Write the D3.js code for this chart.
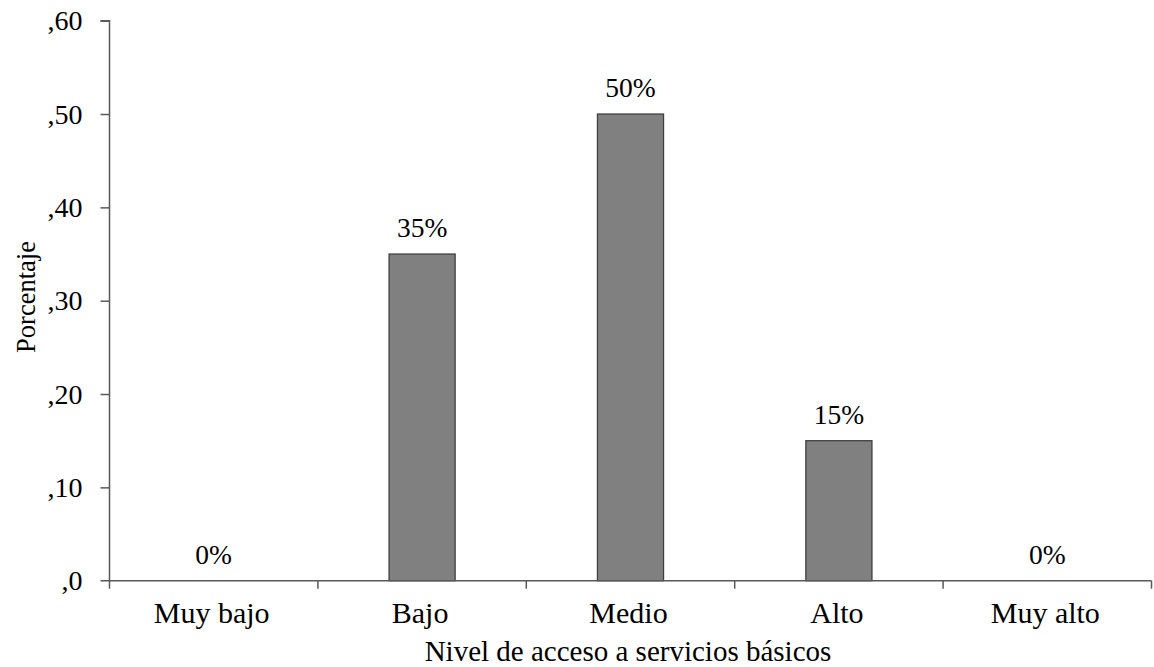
<!DOCTYPE html>
<html>
<head>
<meta charset="utf-8">
<script src="https://cdn.jsdelivr.net/npm/d3@7"></script>
<style>
  html, body { margin: 0; padding: 0; background: #fff; }
  svg { display: block; }
  text { font-family: "Liberation Serif", "Times New Roman", serif; fill: #000; }
</style>
</head>
<body>
<svg id="chart" width="1154" height="667"></svg>
<script>
const categories = ["Muy bajo", "Bajo", "Medio", "Alto", "Muy alto"];
const values = [0, 0.35, 0.50, 0.15, 0];
const valueLabels = ["0%", "35%", "50%", "15%", "0%"];
const yTicks = [0, 0.1, 0.2, 0.3, 0.4, 0.5, 0.6];
const yTickLabels = [",0", ",10", ",20", ",30", ",40", ",50", ",60"];
const xTitle = "Nivel de acceso a servicios básicos";
const yTitle = "Porcentaje";

const svg = d3.select("#chart");
const plotLeft = 109.5, plotRight = 1151.5, plotTop = 20.7, plotBottom = 580.7;
const axisColor = "#595959";

const x = d3.scaleBand().domain(categories).range([plotLeft, plotRight]).padding(0);
const y = d3.scaleLinear().domain([0, 0.6]).range([plotBottom, plotTop]);
const barW = x.bandwidth() * 0.317;

// bars
svg.append("g").selectAll("rect")
  .data(values)
  .join("rect")
  .attr("x", (d, i) => x(categories[i]) + x.bandwidth() / 2 - barW / 2)
  .attr("y", d => y(d))
  .attr("width", barW)
  .attr("height", d => y(0) - y(d))
  .attr("fill", "#808080")
  .attr("stroke", "#3f3f3f")
  .attr("stroke-width", 1.3)
  .style("display", d => d > 0 ? null : "none");

// value labels
svg.append("g").selectAll("text")
  .data(values)
  .join("text")
  .attr("x", (d, i) => x(categories[i]) + x.bandwidth() / 2)
  .attr("y", d => y(d) - 17)
  .attr("text-anchor", "middle")
  .style("font-size", "27.5px")
  .text((d, i) => valueLabels[i]);

// y axis
const yAxis = d3.axisLeft(y)
  .tickValues(yTicks)
  .tickFormat((d, i) => yTickLabels[i])
  .tickSize(9)
  .tickPadding(18);
const gy = svg.append("g").attr("transform", `translate(${plotLeft},0)`).call(yAxis);
gy.select(".domain").attr("stroke", axisColor).attr("stroke-width", 1.5).attr("d", `M-9,${plotTop}H0V${plotBottom}`);
gy.selectAll(".tick line").attr("stroke", axisColor).attr("stroke-width", 1.5);
gy.selectAll(".tick text")
  .style("font-size", "28px")
  .style("font-family", '"Liberation Serif", "Times New Roman", serif')
  .attr("fill", "#000")
  .attr("dy", "0.33em");
gy.selectAll(".tick").filter(d => d === 0).select("line").remove();

// x axis (ticks at category boundaries)
const xAxisG = svg.append("g").attr("transform", `translate(0,${plotBottom})`);
xAxisG.append("line")
  .attr("x1", plotLeft - 9).attr("x2", plotRight)
  .attr("y1", 0).attr("y2", 0)
  .attr("stroke", axisColor).attr("stroke-width", 1.5);
const boundaries = categories.map(c => x(c)).concat([plotRight]);
xAxisG.selectAll("line.tk")
  .data(boundaries)
  .join("line")
  .attr("class", "tk")
  .attr("x1", d => d).attr("x2", d => d)
  .attr("y1", 0).attr("y2", 8)
  .attr("stroke", axisColor).attr("stroke-width", 1.5);
xAxisG.selectAll("text")
  .data(categories)
  .join("text")
  .attr("x", d => x(d) + x.bandwidth() / 2 - 2)
  .attr("y", 42.5)
  .attr("text-anchor", "middle")
  .style("font-size", "30px")
  .text(d => d);

// axis titles
svg.append("text")
  .attr("x", 628)
  .attr("y", 661)
  .attr("text-anchor", "middle")
  .style("font-size", "29px")
  .text(xTitle);

svg.append("text")
  .attr("transform", `translate(35,297) rotate(-90)`)
  .attr("text-anchor", "middle")
  .style("font-size", "26.5px")
  .text(yTitle);
</script>
</body>
</html>
